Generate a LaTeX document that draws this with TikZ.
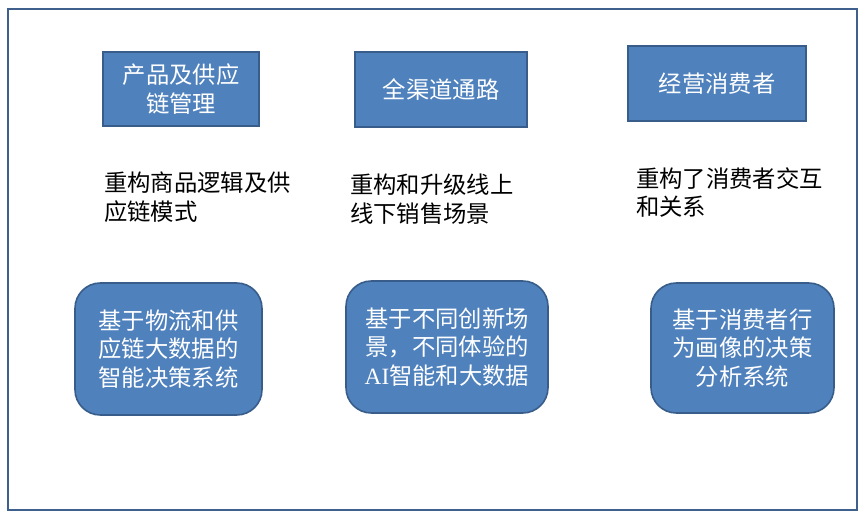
\documentclass[tikz,border=0pt]{standalone}
\usepackage{fontspec}
\setmainfont{Noto Sans CJK SC}
\newfontfamily\latinserif{Liberation Serif}
\begin{document}
\begin{tikzpicture}[x=0.75pt,y=-0.75pt,
  topbox/.style={draw=boxedge,fill=boxfill,line width=1.5pt,text=white,align=center,font=\fontsize{17.5}{21.5}\selectfont,inner sep=0pt},
  botbox/.style={draw=boxedge,fill=boxfill,line width=1.2pt,rounded corners=19pt,text=white,align=center,font=\fontsize{17.5}{21.5}\selectfont,inner sep=0pt},
  plaintext/.style={align=left,font=\fontsize{17.5}{21.5}\selectfont,inner sep=0pt,anchor=north west,text=black}]
\definecolor{boxfill}{HTML}{4F81BD}
\definecolor{boxedge}{HTML}{385D8A}
\definecolor{frameedge}{HTML}{3F5F8C}
\useasboundingbox (0,0) rectangle (864,516);
\draw[frameedge,line width=1.8pt] (8,9) rectangle (857,510);
% top boxes
\node[topbox,minimum width=156*0.75pt,minimum height=74*0.75pt] (t1) at (181,89) {产品及供应\\链管理};
\node[topbox,minimum width=172*0.75pt,minimum height=75*0.75pt] (t2) at (441,89.5) {全渠道通路};
\node[topbox,minimum width=178*0.75pt,minimum height=75*0.75pt] (t3) at (717,83.5) {经营消费者};
% middle texts
\node[plaintext] (m1) at (104,172) {重构商品逻辑及供\\应链模式};
\node[plaintext] (m2) at (350,174) {重构和升级线上\\线下销售场景};
\node[plaintext] (m3) at (636,167) {重构了消费者交互\\和关系};
% bottom boxes
\node[botbox,minimum width=187*0.75pt,minimum height=132*0.75pt] (b1) at (168.5,349) {基于物流和供\\应链大数据的\\智能决策系统};
\node[botbox,minimum width=202*0.75pt,minimum height=132*0.75pt] (b2) at (447,347) {基于不同创新场\\景，不同体验的\\{\latinserif AI}智能和大数据};
\node[botbox,minimum width=183*0.75pt,minimum height=130*0.75pt] (b3) at (742.5,348) {基于消费者行\\为画像的决策\\分析系统};
\end{tikzpicture}
\end{document}
